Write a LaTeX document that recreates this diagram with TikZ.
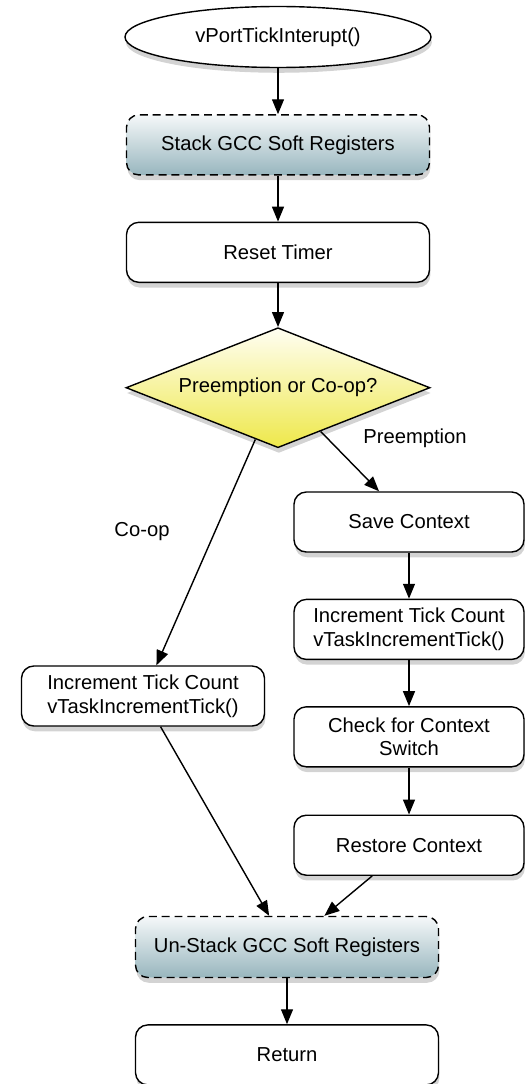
\documentclass[tikz,border=0pt]{standalone}
\usepackage{fontspec}
\setmainfont{Liberation Sans}
\usetikzlibrary{arrows.meta, positioning, shapes.geometric, shadows}
\definecolor{regtop}{HTML}{F5F8F9}
\definecolor{regbot}{HTML}{98B6BE}
\definecolor{dectop}{HTML}{FFFEF2}
\definecolor{decbot}{HTML}{EEE84A}

\begin{document}
\begin{tikzpicture}[font=\fontsize{11.5}{13.5}\selectfont,
    boxshadow/.style={drop shadow={shadow xshift=0.5pt, shadow yshift=-3pt, opacity=0.35}},
    procbox/.style={draw, line width=0.8pt, fill=white, rounded corners=7pt,
                    minimum width=6.06cm, minimum height=1.2cm, align=center, boxshadow},
    sidebox/.style={procbox, minimum width=4.6cm},
    regbox/.style={procbox, dash pattern=on 4.5pt off 2.8pt, top color=regtop, bottom color=regbot},
    decision/.style={draw, diamond, line width=0.8pt, aspect=2.5, inner sep=0pt,
                     minimum width=6.08cm, minimum height=2.4cm,
                     top color=dectop, bottom color=decbot, boxshadow},
    flow/.style={-{Triangle[length=8.5pt, width=6.8pt]}, line width=0.8pt}]
  \useasboundingbox (0,0) rectangle (10.54,-21.68);

  % main column
  \node[draw, ellipse, line width=0.8pt, fill=white, minimum width=6.12cm,
        minimum height=1.22cm, boxshadow] (isr) at (5.56,-0.74) {vPortTickInterupt()};
  \node[regbox, below=0.92cm of isr] (stack) {Stack GCC Soft Registers};
  \node[procbox, below=0.92cm of stack] (reset) {Reset Timer};
  \node[decision, below=0.88cm of reset] (dec) {Preemption or Co-op?};

  % preemption branch
  \node[sidebox] (save) at (8.18,-10.44) {Save Context};
  \node[sidebox, below=0.92cm of save] (tickR) {Increment Tick Count\\vTaskIncrementTick()};
  \node[sidebox, below=0.92cm of tickR] (check) {Check for Context\\Switch};
  \node[sidebox, below=0.94cm of check] (restore) {Restore Context};

  % co-op branch
  \node[sidebox, minimum width=4.86cm] (tickL) at (2.86,-13.92) {Increment Tick Count\\vTaskIncrementTick()};

  % exit
  \node[regbox, minimum height=1.22cm] (unstack) at (5.74,-18.94) {Un-Stack GCC Soft Registers};
  \node[procbox, below=0.92cm of unstack] (ret) {Return};

  \node (lblpre) at (8.3,-8.76) {Preemption};
  \node (lblcoop) at (2.84,-10.64) {Co-op};

  \draw[flow] (isr) -- (stack);
  \draw[flow] (stack) -- (reset);
  \draw[flow] (reset) -- (dec);
  \draw[flow] (dec) -- (save);
  \draw[flow] (dec) -- (tickL);
  \draw[flow] (save) -- (tickR);
  \draw[flow] (tickR) -- (check);
  \draw[flow] (check) -- (restore);
  \draw[flow] (tickL) -- (unstack);
  \draw[flow] (restore) -- (unstack);
  \draw[flow] (unstack) -- (ret);
\end{tikzpicture}
\end{document}
